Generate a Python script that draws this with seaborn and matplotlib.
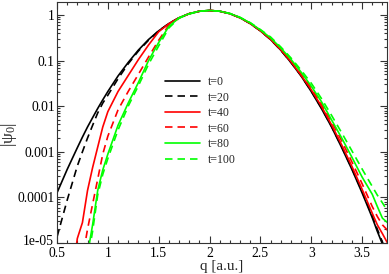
import numpy as np
import pandas as pd
import matplotlib
matplotlib.use("Agg")
import matplotlib.pyplot as plt
import matplotlib.transforms as mtransforms
import seaborn as sns
from matplotlib.ticker import MultipleLocator, FixedLocator, FixedFormatter, LogLocator, NullFormatter

# q grid (a.u.) and |psi_0|, one list per time
q = [0.5, 0.6, 0.7, 0.75, 0.8, 0.85, 0.9, 0.95, 1.0, 1.1, 1.2, 1.3, 1.4, 1.5, 1.6, 1.7,
     1.8, 1.9, 2.0, 2.1, 2.2, 2.3, 2.4, 2.5, 2.6, 2.7, 2.8, 2.9, 3.0, 3.1, 3.2, 3.3,
     3.4, 3.5, 3.6, 3.65, 3.7, 3.75]

psi_t0 = [1.26e-4, 4.1e-4, 1.23e-3, 2.1e-3, 3.5e-3, 5.6e-3, 8.9e-3, 1.38e-2, 2.1e-2, 4.6e-2,
          9.1e-2, 0.17, 0.29, 0.45, 0.65, 0.87, 1.07, 1.21, 1.26, 1.21, 1.07, 0.87, 0.65, 0.45,
          0.29, 0.17, 9.1e-2, 4.6e-2, 2.1e-2, 8.9e-3, 3.5e-3, 1.23e-3, 4.1e-4, 1.26e-4,
          3.6e-5, 1.8e-5, 9.5e-6, 4.5e-6]
psi_t20 = [1.35e-5, 8.7e-5, 4.9e-4, 1.0e-3, 2.0e-3, 3.8e-3, 7.1e-3, 1.17e-2, 1.74e-2, 4.0e-2,
           8.5e-2, 0.162, 0.28, 0.45, 0.65, 0.87, 1.07, 1.21, 1.26, 1.21, 1.07, 0.87, 0.65, 0.45,
           0.29, 0.17, 9.2e-2, 4.7e-2, 2.15e-2, 9.2e-3, 3.6e-3, 1.28e-3, 4.3e-4, 1.35e-4,
           3.9e-5, 2.0e-5, 1.05e-5, 5e-6]
psi_t40 = [1e-8, 3e-7, 1.26e-5, 2.8e-5, 1.41e-4, 4.5e-4, 1.26e-3, 3.5e-3, 7.6e-3, 2.1e-2,
           4.7e-2, 0.105, 0.22, 0.43, 0.645, 0.87, 1.07, 1.21, 1.26, 1.21, 1.07, 0.87, 0.65, 0.45,
           0.295, 0.174, 9.5e-2, 4.8e-2, 2.3e-2, 1.0e-2, 3.9e-3, 1.41e-3, 4.8e-4, 1.51e-4,
           4.5e-5, 2.5e-5, 1.6e-5, 1.0e-5]
psi_t60 = [1e-9, 3e-8, 1e-6, 4.5e-6, 2.0e-5, 7.1e-5, 2.5e-4, 8.9e-4, 2.2e-3, 8.3e-3,
           2.1e-2, 5.0e-2, 0.12, 0.28, 0.60, 0.85, 1.07, 1.21, 1.26, 1.21, 1.07, 0.87, 0.66, 0.46,
           0.30, 0.178, 0.10, 5.1e-2, 2.5e-2, 1.12e-2, 4.6e-3, 1.74e-3, 6.0e-4, 2.0e-4,
           6.3e-5, 3.8e-5, 2.5e-5, 1.9e-5]
psi_t80 = [1e-10, 3e-9, 1.6e-7, 1.26e-6, 5.6e-6, 2.5e-5, 1.41e-4, 4.0e-4, 8.9e-4, 3.8e-3,
           1.17e-2, 3.3e-2, 0.10, 0.25, 0.56, 0.87, 1.07, 1.21, 1.26, 1.21, 1.08, 0.88, 0.67, 0.47,
           0.316, 0.19, 0.107, 5.6e-2, 2.75e-2, 1.26e-2, 5.0e-3, 2.0e-3, 7.6e-4, 2.8e-4,
           1.17e-4, 6.3e-5, 3.5e-5, 2.8e-5]
psi_t100 = [1e-10, 1.6e-9, 1e-7, 8e-7, 4e-6, 1.8e-5, 1.12e-4, 3.2e-4, 7.1e-4, 3.0e-3,
            1.0e-2, 2.8e-2, 8.3e-2, 0.21, 0.52, 0.85, 1.05, 1.21, 1.26, 1.21, 1.08, 0.89, 0.68, 0.48,
            0.33, 0.20, 0.115, 6.2e-2, 3.2e-2, 1.48e-2, 6.3e-3, 2.6e-3, 1.05e-3, 4.2e-4,
            1.74e-4, 1.12e-4, 7.6e-5, 5.0e-5]

labels = ["t=0", "t=20", "t=40", "t=60", "t=80", "t=100"]
series = [psi_t0, psi_t20, psi_t40, psi_t60, psi_t80, psi_t100]
colors = ["black", "black", "#ff0000", "#ff0000", "#00ff00", "#00ff00"]
styles = ["-", "--", "-", "--", "-", "--"]

ytick_vals = [1e-5, 1e-4, 1e-3, 1e-2, 1e-1, 1]
ytick_labels = ["1e-05", "0.0001", "0.001", "0.01", "0.1", "1"]
xtick_vals = [0.5, 1, 1.5, 2, 2.5, 3, 3.5]
xtick_labels = ["0.5", "1", "1.5", "2", "2.5", "3", "3.5"]

sns.set_style("ticks")
plt.rcParams['font.family'] = ['Liberation Serif', 'DejaVu Serif']
plt.rcParams['mathtext.fontset'] = 'custom'
plt.rcParams['mathtext.rm'] = 'Liberation Serif'
plt.rcParams['mathtext.it'] = 'Liberation Serif:italic'

fig = plt.figure(figsize=(3.89, 2.74), dpi=100)
ax = fig.add_axes([57/389, 31/274, 330/389, 241/274])

for vals, lab, c, ls in zip(series, labels, colors, styles):
    df = pd.DataFrame({"q": q, "psi": vals})
    sns.lineplot(data=df, x="q", y="psi", color=c, linestyle=ls, linewidth=1.2,
                 label=lab, ax=ax, sort=False)
for line in ax.get_lines():
    if line.get_linestyle() == '--':
        line.set_dashes((4.5, 3))

ax.set_yscale('log')
ax.set_xlim(0.5, 3.745)
ax.set_ylim(1e-5, 1.93)

ax.xaxis.set_major_locator(FixedLocator(xtick_vals))
ax.xaxis.set_major_formatter(FixedFormatter(xtick_labels))
ax.xaxis.set_minor_locator(MultipleLocator(0.1))
ax.yaxis.set_major_locator(FixedLocator(ytick_vals))
ax.yaxis.set_major_formatter(FixedFormatter(ytick_labels))
ax.yaxis.set_minor_locator(LogLocator(base=10, subs=np.arange(2, 10)))
ax.yaxis.set_minor_formatter(NullFormatter())
ax.tick_params(which='both', direction='in', top=True, right=True, labelsize=9.8, width=0.8,
               colors='#333333', labelcolor='black')
ax.tick_params(which='major', length=5)
ax.tick_params(axis='y', which='major', pad=1.5)
ax.tick_params(axis='x', which='major', pad=3)
ax.tick_params(which='minor', length=2.5)
for sp in ax.spines.values():
    sp.set_linewidth(0.8)
    sp.set_color('#333333')

# nudge the bottom y label up a little so it does not sit on "0.5"
fig.canvas.draw()
low_lab = ax.yaxis.get_majorticklabels()[0]
low_lab.set_transform(low_lab.get_transform() +
                      mtransforms.ScaledTranslation(-1/100, 3/100, fig.dpi_scale_trans))

ax.set_xlabel("q [a.u.]", fontsize=11, labelpad=0)
ax.set_ylabel("|ψ$_0$|", fontsize=12.5)
ax.yaxis.set_label_coords(-0.115, 0.45)

ax.legend(loc='upper left', bbox_to_anchor=((165 - 57) / 330, (274 - 76 - 31) / 241),
          frameon=False, fontsize=8.5, handlelength=3.0, handletextpad=0.6,
          labelspacing=0.3, borderaxespad=0, borderpad=0)

fig.savefig("out.png", dpi=100)
